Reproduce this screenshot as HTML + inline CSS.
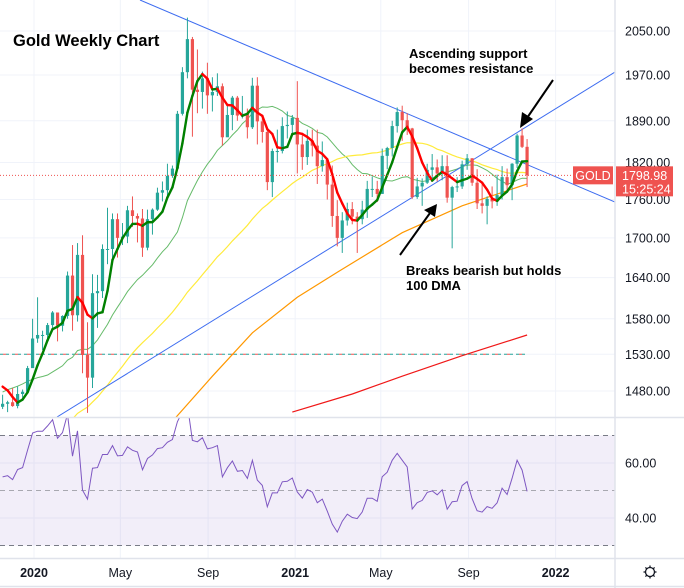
<!DOCTYPE html>
<html><head><meta charset="utf-8"><style>
html,body{margin:0;padding:0;background:#fff;}
svg{display:block;font-family:"Liberation Sans",sans-serif;}
</style></head><body>
<svg id="chart" width="684" height="588" viewBox="0 0 684 588" xmlns="http://www.w3.org/2000/svg">
<defs>
<clipPath id="pclip"><rect x="0" y="0" width="615" height="417"/></clipPath>
<clipPath id="rclip"><rect x="0" y="418" width="615" height="140"/></clipPath>
</defs>
<g id="grid"></g>
<g id="price" clip-path="url(#pclip)"></g>
<g id="rsi" clip-path="url(#rclip)"></g>
<g id="axes"></g>
<g>
  <text x="13" y="46" font-size="16.5" font-weight="bold" fill="#000">Gold Weekly Chart</text>
  <text x="409" y="58" font-size="13" font-weight="bold" fill="#000"><tspan x="409">Ascending support</tspan><tspan x="409" dy="15">becomes resistance</tspan></text>
  <text x="406" y="275" font-size="13" font-weight="bold" fill="#000"><tspan x="406">Breaks bearish but holds</tspan><tspan x="406" dy="15">100 DMA</tspan></text>
  <g>
    <line x1="553" y1="80" x2="527" y2="118" stroke="#000" stroke-width="2"/>
    <polygon points="520,128 522,112 533,119" fill="#000"/>
  </g>
  <g>
    <line x1="400" y1="255" x2="430" y2="213" stroke="#000" stroke-width="2"/>
    <polygon points="437,204 424,210 435,217" fill="#000"/>
  </g>
</g>
</svg>
<script>
const NS="http://www.w3.org/2000/svg";
// Weekly closes before visible range (Dec 2018 - Nov 2019)
const preCloses=[1248,1238,1257,1279,1287,1290,1282,1303,1318,1314,1322,1322,1328,1298,1299,1303,1313,1298,1290,1291,1275,1286,1280,1286,1276,1284,1305,1341,1341,1399,1409,1400,1415,1426,1419,1440,1497,1513,1527,1529,1506,1488,1499,1489,1504,1489,1490,1504,1513,1459];
// Visible weekly candles from week of 2019-11-18
const closes=[1463,1465,1460,1476,1479,1511,1552,
1557,1557,1571,1589,1570,1584,1643,1585,1674,1529,1498,1617,1620,1683,1683,1729,1700,1702,1743,1734,1730,1685,1729,1744,1771,1775,1798,1810,1902,1975,2035,1944,1940,1964,1934,1940,1950,1862,1900,1930,1899,1902,1879,1951,1889,1871,1788,1839,1839,1881,1883,1895,
1850,1829,1856,1848,1814,1824,1784,1734,1700,1727,1745,1733,1729,1744,1777,1777,1769,1831,1844,1881,1905,1891,1877,1764,1781,1787,1808,1812,1802,1814,1763,1780,1781,1817,1827,1787,1754,1750,1761,1757,1767,1796,1783,1818,1865,1846,1799];
const highs=[1475,1467,1484,1486,1482,1514,1580,
1611,1563,1574,1591,1586,1585,1649,1689,1692,1704,1575,1645,1644,1690,1747,1738,1738,1723,1750,1765,1738,1745,1744,1746,1779,1789,1818,1815,1907,1984,2075,2039,2016,1976,1992,1966,1973,1955,1917,1933,1933,1933,1911,1965,1966,1898,1876,1843,1875,1896,1906,1900,
1959,1865,1875,1875,1875,1855,1825,1815,1759,1740,1755,1756,1740,1758,1790,1797,1790,1843,1846,1890,1913,1916,1903,1878,1795,1794,1818,1834,1825,1832,1832,1782,1796,1823,1834,1827,1809,1787,1765,1781,1800,1814,1810,1819,1868,1877,1859];
const lows=[1456,1452,1459,1457,1471,1477,1516,
1546,1536,1547,1563,1548,1562,1580,1563,1576,1504,1451,1484,1567,1610,1660,1659,1670,1689,1692,1717,1693,1671,1681,1705,1742,1757,1762,1795,1807,1899,1964,1863,1903,1911,1902,1906,1933,1848,1873,1874,1890,1894,1860,1876,1850,1853,1775,1764,1820,1835,1860,1868,
1802,1808,1816,1830,1785,1805,1760,1717,1687,1677,1719,1721,1677,1721,1731,1764,1756,1769,1809,1830,1870,1856,1866,1761,1761,1750,1785,1792,1789,1791,1755,1684,1772,1777,1808,1782,1745,1738,1721,1746,1750,1760,1771,1759,1811,1844,1780];
// 100-week and 200-week SMA (sampled by candle index)
const ma100Idx=[28,34,42,50,59,67,80,92,105];
const ma100Val=[1395,1440,1500,1560,1611,1648,1708,1750,1785];
const ma200Idx=[58,70,80,92,105];
const ma200Val=[1452,1476,1500,1528,1557];
const priceTicks=[2050,1970,1890,1820,1760,1700,1640,1580,1530,1480];
const rsiTicks=[60,40];
const timeLabels=["2020","May","Sep","2021","May","Sep","2022"];
const timeDays=[0,121,244,366,486,609,731];
const timeBold=[true,false,false,true,false,false,true];
const lastPrice=1798.98;

const PX0=34, WK=4.995, P0=Math.log(2050), PK=1105;
const xOfDay=d=>PX0+d/7*WK;
const xOf=i=>xOfDay(i*7-44);
const yOf=p=>31+(P0-Math.log(p))*PK;
const yR=v=>490.5-(v-50)*2.75;

function mk(tag,attrs,parent){const e=document.createElementNS(NS,tag);for(const k in attrs)e.setAttribute(k,attrs[k]);parent.appendChild(e);return e;}
const grid=document.getElementById('grid'),price=document.getElementById('price'),rsiG=document.getElementById('rsi'),axes=document.getElementById('axes');

// grid
timeDays.forEach(d=>{const l=mk('line',{x1:xOfDay(d),x2:xOfDay(d),y1:0,y2:558,stroke:'#f0f3fa','stroke-width':1},grid);

});
priceTicks.forEach(p=>{const l=mk('line',{x1:0,x2:615,y1:yOf(p),y2:yOf(p),stroke:'#f0f3fa','stroke-width':1},grid);

});
rsiTicks.forEach(v=>{const l=mk('line',{x1:0,x2:615,y1:yR(v),y2:yR(v),stroke:'#f0f3fa','stroke-width':1},grid);

});

const all=preCloses.concat(closes), off=preCloses.length;
function sma(n,i){let s=0;for(let k=i-n+1;k<=i;k++)s+=all[k];return s/n;}
function path(pts){return pts.map((p,j)=>(j?'L':'M')+p[0].toFixed(1)+','+p[1].toFixed(1)).join('');}

// horizontal dashed level
const lv=mk('line',{x1:0,x2:527,y1:yOf(1530),y2:yOf(1530),stroke:'#26a69a','stroke-width':1,'stroke-dasharray':'3,3'},price);


const lv2=mk('line',{x1:3,x2:527,y1:yOf(1530),y2:yOf(1530),stroke:'#ef5350','stroke-width':1,'stroke-dasharray':'3,9'},price);



// MAs
function maLine(name,color,w,pts){const p=mk('path',{d:path(pts),fill:'none',stroke:color,'stroke-width':w},price);

}
const p20=[],p50=[];
for(let i=0;i<closes.length;i++){p20.push([xOf(i),yOf(sma(20,i+off))]);p50.push([xOf(i),yOf(sma(50,i+off))]);}
maLine('sma-20','#66bb6a',1,p20);
maLine('sma-50','#ffeb3b',1.2,p50);
maLine('sma-100','#ff9800',1.2,ma100Idx.map((k,j)=>[xOf(k),yOf(ma100Val[j])]));
maLine('sma-200','#f01818',1.2,ma200Idx.map((k,j)=>[xOf(k),yOf(ma200Val[j])]));

// trendlines
const t1=mk('line',{x1:140,y1:0,x2:615,y2:202,stroke:'#3d6cf0','stroke-width':1},price);


const t2=mk('line',{x1:57,y1:417,x2:615,y2:72,stroke:'#3d6cf0','stroke-width':1},price);



// candles
for(let i=0;i<closes.length;i++){
  const o=all[i+off-1],c=closes[i],x=xOf(i);
  const col=c>=o?'#26a69a':'#ef5350';
  const g=mk('g',{},price);
  
  
  mk('line',{x1:x,x2:x,y1:yOf(highs[i]),y2:yOf(lows[i]),stroke:col,'stroke-width':1},g);
  const yt=yOf(Math.max(o,c)),yb=yOf(Math.min(o,c));
  mk('rect',{x:x-1.6,y:yt,width:3.2,height:Math.max(1,yb-yt),fill:col},g);
}
// fast MA colored by slope
for(let i=1;i<closes.length;i++){
  const a=sma(5,i-1+off),b=sma(5,i+off);
  const s=mk('line',{x1:xOf(i-1),y1:yOf(a),x2:xOf(i),y2:yOf(b),stroke:b>=a?'#008000':'#ff0000','stroke-width':2.4,'stroke-linecap':'round'},price);
  
  
}
// last price line
const lp=mk('line',{x1:0,x2:615,y1:yOf(lastPrice),y2:yOf(lastPrice),stroke:'#ef5350','stroke-width':1,'stroke-dasharray':'1,2'},price);



// RSI
const rb=mk('rect',{x:0,y:yR(70),width:615,height:yR(30)-yR(70),fill:'#7e57c2','fill-opacity':0.1},rsiG);


[70,50,30].forEach(v=>{const l=mk('line',{x1:0,x2:615,y1:yR(v),y2:yR(v),stroke:v===50?'#a8a8b0':'#787b86','stroke-width':1,'stroke-dasharray':'5,4'},rsiG);

});
let ag=0,al=0;const N=14,rsiPts=[];
for(let k=1;k<all.length;k++){
  const d=all[k]-all[k-1],gn=Math.max(d,0),ls=Math.max(-d,0);
  if(k<=N){ag+=gn/N;al+=ls/N;}else{ag=(ag*(N-1)+gn)/N;al=(al*(N-1)+ls)/N;}
  if(k>=off){const r=al===0?100:100-100/(1+ag/al);rsiPts.push([xOf(k-off),yR(r)]);}
}
const rl=mk('path',{d:path(rsiPts),fill:'none',stroke:'#7e57c2','stroke-width':1},rsiG);



// separators
[[615,0,615,588],[0,417.5,684,417.5],[0,558.5,684,558.5],[0,586.5,684,586.5]].forEach(s=>{const l=mk('line',{x1:s[0],y1:s[1],x2:s[2],y2:s[3],stroke:'#e0e3eb','stroke-width':1.5},axes);

});

// price axis labels
priceTicks.forEach(p=>{const t=mk('text',{x:625,y:yOf(p)+4.5,'font-size':12.5,fill:'#131722'},axes);t.textContent=p.toFixed(2);

});
rsiTicks.forEach(v=>{const t=mk('text',{x:625,y:yR(v)+4.5,'font-size':12.5,fill:'#131722'},axes);t.textContent=v.toFixed(2);

});
// time labels
timeLabels.forEach((s,j)=>{const t=mk('text',{x:xOfDay(timeDays[j]),y:577,'font-size':12.5,'text-anchor':'middle',fill:'#131722','font-weight':timeBold[j]?'bold':'normal'},axes);t.textContent=s;

});

// GOLD tag & price label
const yl=yOf(lastPrice);
const gt=mk('g',{},axes);


mk('rect',{x:573,y:yl-9,width:40,height:18,fill:'#ef5350'},gt);
const gtt=mk('text',{x:593,y:yl+4.5,'font-size':12.5,'text-anchor':'middle',fill:'#fff'},gt);gtt.textContent='GOLD';
const pl=mk('g',{},axes);


mk('rect',{x:616,y:yl-9,width:57,height:30,fill:'#ef5350'},pl);
const plt=mk('text',{x:622,y:yl+4.5,'font-size':12.5,fill:'#fff'},pl);plt.textContent=lastPrice.toFixed(2);
const plc=mk('text',{x:622,y:yl+18,'font-size':12.5,fill:'#fff'},pl);plc.textContent='15:25:24';

// gear icon
const gear=mk('g',{},axes);


mk('circle',{cx:650,cy:572,r:4.5,fill:'none',stroke:'#131722','stroke-width':1.3},gear);
for(let a=0;a<8;a++){const r=a*Math.PI/4;mk('line',{x1:650+Math.cos(r)*4.5,y1:572+Math.sin(r)*4.5,x2:650+Math.cos(r)*6.5,y2:572+Math.sin(r)*6.5,stroke:'#131722','stroke-width':1.3},gear);}
</script>
</body></html>
